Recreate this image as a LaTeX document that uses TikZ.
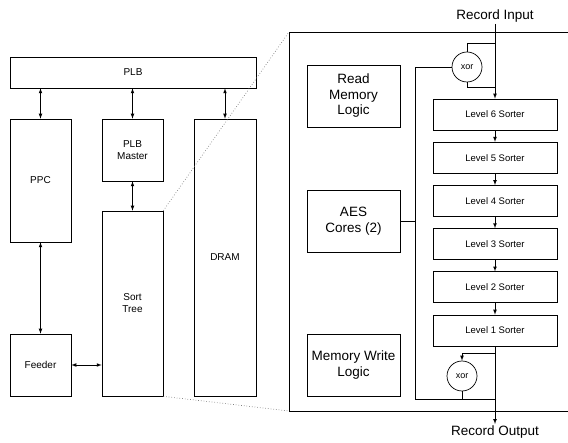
\documentclass[tikz,border=0pt]{standalone}
\usepackage{fontspec}
\setmainfont{Liberation Sans}
\usetikzlibrary{chains,positioning,arrows}

\begin{document}
\begin{tikzpicture}[
x=1pt,y=-1pt,
line width=0.7pt,
blk/.style={
	draw,
	inner sep=2pt,
	align=center,
	font=\fontsize{10}{12}\selectfont
},
big/.style={
	draw,
	inner sep=2pt,
	align=center,
	minimum width=93pt,
	minimum height=62pt,
	font=\fontsize{13.5}{15.5}\selectfont
},
sorter/.style={
	draw,
	minimum width=124pt,
	minimum height=31pt,
	font=\fontsize{9.5}{11}\selectfont,
	join = by -latex
},
xorc/.style={
	draw,
	circle,
	inner sep=0pt,
	minimum size=30pt,
	font=\fontsize{9}{10}\selectfont
},
outer/.style={
	inner sep=1pt,
	font=\fontsize{13.5}{15}\selectfont
},
start chain=1 going below,node distance=11.5pt
]
\useasboundingbox (0,0) rectangle (568,443);

% system side
\node[blk,minimum width=246pt,minimum height=31pt] at (133,72.5)
(plb) {PLB};
\node[blk,minimum width=61pt,minimum height=123pt] at (40.5,180.5)
(ppc) {PPC};
\node[blk,minimum width=61pt,minimum height=62pt] at (132.5,150)
(master) {PLB\\Master};
\node[blk,minimum width=61pt,minimum height=185pt] at (132.5,303.5)
(sort) {Sort\\Tree};
\node[blk,minimum width=62pt,minimum height=277pt] at (225,257.5)
(dram) {DRAM};
\node[blk,minimum width=61pt,minimum height=62pt] at (40.5,365)
(feeder) {Feeder};

\draw[latex-latex] (plb.south -| ppc.north) -- (ppc.north);
\draw[latex-latex] (plb.south -| master.north) -- (master.north);
\draw[latex-latex] (plb.south -| dram.north) -- (dram.north);
\draw[latex-latex] (master.south) -- (sort.north);
\draw[latex-latex] (ppc.south) -- (feeder.north);
\draw[latex-latex] (feeder.east) -- (feeder.east -| sort.west);

% zoomed sort tree
\coordinate (zt) at (289,32);
\coordinate (zb) at (289,411);
\draw (568,32) -- (zt) -- (zb) -- (568,411);
\draw[dotted,gray] (sort.north east) -- (zt);
\draw[dotted,gray] (sort.south east) -- (zb);

\node[big] at (353.5,96) (rml) {Read\\Memory\\Logic};
\node[big] at (353.5,221) (aes) {AES\\Cores (2)};
\node[big] at (353.5,365) (mwl) {Memory Write\\Logic};

\node[on chain=1,sorter,join=] at (495,114.5)
(l6) {Level 6 Sorter};
\node[on chain=1,sorter] (l5) {Level 5 Sorter};
\node[on chain=1,sorter] (l4) {Level 4 Sorter};
\node[on chain=1,sorter] (l3) {Level 3 Sorter};
\node[on chain=1,sorter] (l2) {Level 2 Sorter};
\node[on chain=1,sorter] (l1) {Level 1 Sorter};

\node[outer,anchor=south] at (495,24) (rin) {Record Input};
\node[outer,anchor=north] at (495,424) (rout) {Record Output};
\draw[-latex] (rin.south) -- (l6.north);
\draw[-latex] (l1.south) -- (rout.north);

\node[xorc] at (467,67) (xtop) {xor};
\node[xorc] at (462,376) (xbot) {xor};

\coordinate (tin) at (495,43);
\coordinate (tout) at (495,87);
\coordinate (tl1) at (495,353);
\coordinate (merge) at (495,399);
\coordinate (bustop) at (415,67);
\coordinate (busbot) at (415,399);

\draw (tin) -| (xtop.north);
\draw (xtop.south) |- (tout);
\draw[-latex] (tl1) -| (xbot.north);
\draw (xbot.south) -- (xbot.south |- merge);
\draw (xtop.west) -- (bustop) -- (busbot) -- (merge);
\draw (aes.east) -- (aes.east -| bustop);

\end{tikzpicture}
\end{document}
